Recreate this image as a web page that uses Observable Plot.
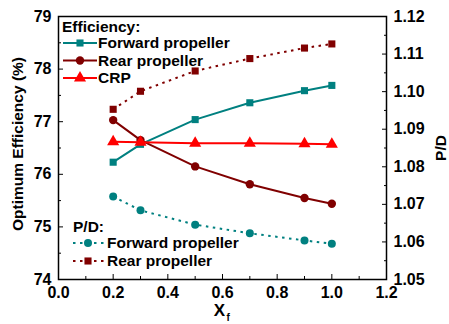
<!DOCTYPE html>
<html><head><meta charset="utf-8">
<script src="https://cdn.jsdelivr.net/npm/d3@7"></script>
<script src="https://cdn.jsdelivr.net/npm/@observablehq/plot@0.6"></script>
<style>body{margin:0;background:#fff}</style>
</head><body><div id="chart"></div>
<script>
const xf = [0.2, 0.3, 0.5, 0.7, 0.9, 1.0];
const effForward = [76.23, 76.57, 77.04, 77.36, 77.59, 77.69];
const effRear = [77.03, 76.65, 76.15, 75.81, 75.55, 75.44];
const effCRP = [76.62, 76.61, 76.59, 76.59, 76.58, 76.57];
const pdForward = [1.0721, 1.0684, 1.0646, 1.0623, 1.0604, 1.0595];
const pdRear = [1.0953, 1.1001, 1.1055, 1.1088, 1.1116, 1.1127];
const xTicks = [0.0, 0.2, 0.4, 0.6, 0.8, 1.0, 1.2];
const xMinor = [0.1, 0.3, 0.5, 0.7, 0.9, 1.1];
const effTicks = [74, 75, 76, 77, 78, 79];
const effMinor = [74.5, 75.5, 76.5, 77.5, 78.5];
const pdTicks = [1.05, 1.06, 1.07, 1.08, 1.09, 1.10, 1.11, 1.12];
const pdMinor = [1.055, 1.065, 1.075, 1.085, 1.095, 1.105, 1.115];

const TEAL = "#008080", DRED = "#800000", RED = "#ff0000";
const FONT = "'Liberation Sans', Arial, sans-serif";
const pdToEff = p => 74 + (p - 1.05) / 0.07 * 5;
const effToPd = e => 1.05 + (e - 74) / 5 * 0.07;

const rows = (ys, conv = v => v) => xf.map((x, i) => ({x, y: conv(ys[i])}));
const dFwd = rows(effForward), dRear = rows(effRear), dCRP = rows(effCRP);
const dPdF = rows(pdForward, pdToEff), dPdR = rows(pdRear, pdToEff);

const dot = "2.5,4.5";
const FS = 16;
const chart = Plot.plot({
  width: 449, height: 324,
  marginLeft: 58, marginRight: 63, marginTop: 16, marginBottom: 45,
  style: {fontFamily: FONT, fontWeight: "bold", fontSize: FS + "px", background: "#fff", color: "#000"},
  x: {domain: [0, 1.2]},
  y: {domain: [74, 79]},
  marks: [
    Plot.frame({stroke: "#000", strokeWidth: 1.5}),
    Plot.axisX({ticks: xTicks, tickFormat: d3.format(".1f"), tickSize: -5, tickPadding: 12, label: null, fontSize: FS, fontWeight: "bold"}),
    Plot.axisX({ticks: xMinor, tickFormat: () => "", tickSize: -3, label: null}),
    Plot.axisY({ticks: effTicks, tickFormat: d => String(d), tickSize: -5, tickPadding: 12, label: null, fontSize: FS, fontWeight: "bold"}),
    Plot.axisY({ticks: effMinor, tickFormat: () => "", tickSize: -3, label: null}),
    Plot.axisY({anchor: "right", ticks: pdTicks.map(pdToEff), tickFormat: v => effToPd(v).toFixed(2), tickSize: -5, tickPadding: 12, label: null, fontSize: FS, fontWeight: "bold"}),
    Plot.axisY({anchor: "right", ticks: pdMinor.map(pdToEff), tickFormat: () => "", tickSize: -3, label: null}),
    // P/D dotted lines
    Plot.line(dPdF, {x: "x", y: "y", stroke: TEAL, strokeWidth: 2, strokeDasharray: dot, strokeLinecap: "butt"}),
    Plot.dot(dPdF, {x: "x", y: "y", fill: TEAL, r: 4, symbol: "circle"}),
    Plot.line(dPdR, {x: "x", y: "y", stroke: DRED, strokeWidth: 2, strokeDasharray: dot, strokeLinecap: "butt"}),
    Plot.dot(dPdR, {x: "x", y: "y", fill: DRED, r: 4, symbol: "square"}),
    // efficiency solid lines
    Plot.line(dFwd, {x: "x", y: "y", stroke: TEAL, strokeWidth: 2}),
    Plot.dot(dFwd, {x: "x", y: "y", fill: TEAL, r: 4, symbol: "square"}),
    Plot.line(dRear, {x: "x", y: "y", stroke: DRED, strokeWidth: 2}),
    Plot.dot(dRear, {x: "x", y: "y", fill: DRED, r: 4.2, symbol: "circle"}),
    Plot.line(dCRP, {x: "x", y: "y", stroke: RED, strokeWidth: 2}),
    Plot.dot(dCRP, {x: "x", y: "y", fill: RED, r: 4.5, symbol: "triangle"}),
    // axis titles
    Plot.text(["Optimum Efficiency (%)"], {frameAnchor: "left", textAnchor: "middle", rotate: -90, dx: -40, dy: -4, fontSize: 15.5, fontWeight: "bold"}),
    Plot.text(["P/D"], {frameAnchor: "right", textAnchor: "middle", rotate: -90, dx: 55, fontSize: 15.5, fontWeight: "bold"}),
    Plot.text(["X"], {frameAnchor: "bottom", textAnchor: "middle", dx: -3, dy: 36, fontSize: 17, fontWeight: "bold"}),
    Plot.text(["f"], {frameAnchor: "bottom", textAnchor: "start", dx: 4, dy: 41.5, fontSize: 10, fontWeight: "bold"})
  ]
});

// legend
const svg = d3.select(chart);
const lg = svg.append("g").attr("font-family", FONT).attr("font-weight", "bold").attr("font-size", 15.5).attr("fill", "#000").attr("text-anchor", "start");
const sym = (g, type, x, y, color, r) => {
  const s = {circle: d3.symbolCircle, square: d3.symbolSquare, triangle: d3.symbolTriangle}[type];
  g.append("path").attr("d", d3.symbol(s, Math.PI * r * r)()).attr("transform", `translate(${x},${y})`).attr("fill", color);
};
const item = (x0, x1, xm, xt, y, color, type, r, dash, label) => {
  const l = lg.append("line").attr("x1", x0).attr("x2", x1).attr("y1", y).attr("y2", y).attr("stroke", color).attr("stroke-width", 2);
  if (dash) l.attr("stroke-dasharray", dash);
  sym(lg, type, xm, y, color, r);
  lg.append("text").attr("x", xt).attr("y", y).attr("dy", "0.35em").attr("text-anchor", "start").text(label);
};
lg.append("text").attr("x", 62).attr("y", 27).attr("dy", "0.35em").attr("text-anchor", "start").text("Efficiency:");
item(63, 97, 80, 98, 43, TEAL, "square", 4, null, "Forward propeller");
item(63, 97, 80, 98, 60.5, DRED, "circle", 4.2, null, "Rear propeller");
item(63, 97, 80, 98, 78, RED, "triangle", 4.5, null, "CRP");
lg.append("text").attr("x", 73).attr("y", 227).attr("dy", "0.35em").attr("text-anchor", "start").text("P/D:");
item(73, 104, 88, 107, 243, TEAL, "circle", 4, "2.5,4.5", "Forward propeller");
item(73, 104, 88, 107, 261, DRED, "square", 4, "2.5,4.5", "Rear propeller");

document.getElementById("chart").appendChild(chart);
</script>
</body></html>
